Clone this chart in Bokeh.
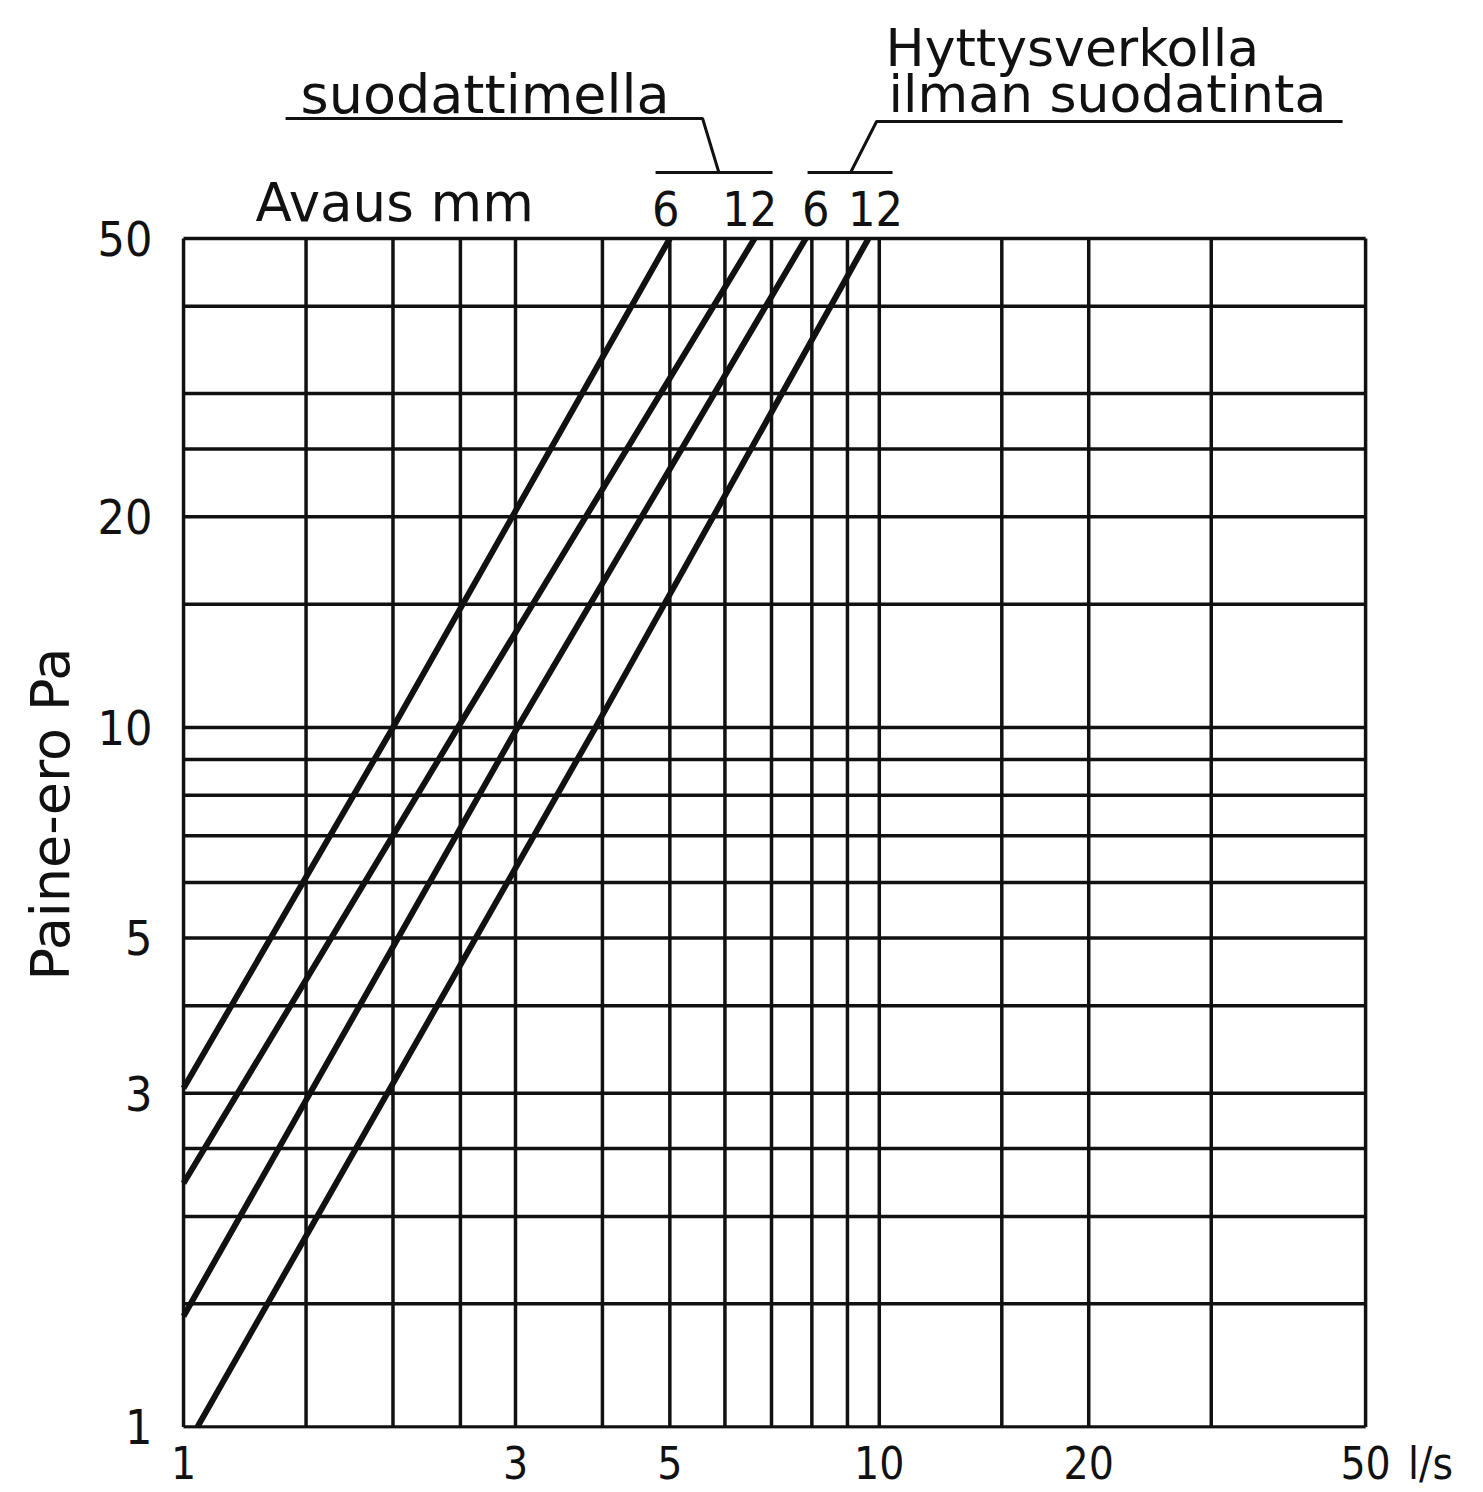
import math
from bokeh.plotting import figure
from bokeh.models import FixedTicker, Range1d, Title
from bokeh.core.properties import value
from bokeh.embed import file_html
from bokeh.resources import INLINE

# ---------------- data ----------------
# flow l/s  vs  pressure difference Pa, straight lines on log-log paper
flow_s6 = [1.0, 2.0, 5.0]
dp_s6 = [3.05, 10.0, 50.0]
flow_s12 = [1.0, 2.48, 6.62]
dp_s12 = [2.23, 10.0, 50.0]
flow_h6 = [1.0, 3.02, 7.84]
dp_h6 = [1.44, 10.0, 50.0]
flow_h12 = [1.047, 3.91, 9.65]
dp_h12 = [1.0, 10.0, 50.0]
openings = ["6", "12", "6", "12"]

x_ticks = [1, 3, 5, 10, 20, 50]
x_tick_labels = ["1", "3", "5", "10", "20", "50"]
x_unit = "l/s"
y_ticks = [1, 3, 5, 10, 20, 50]
y_tick_labels = ["1", "3", "5", "10", "20", "50"]
x_grid = [1, 1.5, 2, 2.5, 3, 4, 5, 6, 7, 8, 9, 10, 15, 20, 30, 50]
y_grid = [1, 1.5, 2, 2.5, 3, 4, 5, 6, 7, 8, 9, 10, 15, 20, 25, 30, 40, 50]
y_title = "Paine-ero Pa"
opening_title = "Avaus mm"
group1 = "suodattimella"
group2 = ["Hyttysverkolla", "ilman suodatinta"]

# ---------------- layout ----------------
XMIN, XMAX = 1, 50
YMIN, YMAX = 1, 50
PXDX = 695.7   # pixels per decade, x
PXDY = 699.8   # pixels per decade, y
LEFT_PX = 183  # page position of x = 1
TOP_PX = 238   # page position of y = 50
BASE_FIX = 18  # baseline correction for text glyphs

def fx(px):
    return XMIN * 10 ** ((px - LEFT_PX) / PXDX)

def fy(py):
    return YMAX * 10 ** ((TOP_PX - py) / PXDY)

x_start, x_end = 0.99, 68.0
y_start = 0.995
y_end = fy(0)
frame_w = round(PXDX * math.log10(x_end / x_start))
frame_h = round(PXDY * math.log10(y_end / y_start))
left_border = round(LEFT_PX - PXDX * math.log10(XMIN / x_start))

INK = "#111111"
WORD_FONT = "DejaVu Sans"
NUM_FONT = "DejaVu Sans Condensed"

p = figure(x_axis_type="log", y_axis_type="log",
           x_range=Range1d(x_start, x_end), y_range=Range1d(y_start, y_end),
           frame_width=frame_w, frame_height=frame_h,
           min_border_left=left_border, min_border_right=0,
           min_border_top=0, min_border_bottom=0,
           toolbar_location=None, output_backend="svg",
           background_fill_color="white", border_fill_color="white",
           outline_line_color=None)
p.xgrid.visible = False
p.ygrid.visible = False

# grid of the log paper
p.segment(x0=x_grid, y0=[YMIN] * len(x_grid), x1=x_grid, y1=[YMAX] * len(x_grid),
          line_color=INK, line_width=3.5)
p.segment(x0=[XMIN] * len(y_grid), y0=y_grid, x1=[XMAX] * len(y_grid), y1=y_grid,
          line_color=INK, line_width=3.5)

# curves
for fl, dp in [(flow_s6, dp_s6), (flow_s12, dp_s12), (flow_h6, dp_h6), (flow_h12, dp_h12)]:
    p.line(fl, dp, line_color=INK, line_width=6)

# axes
xax = p.xaxis[0]
xax.ticker = FixedTicker(ticks=x_ticks + [62])
ov = {t: l for t, l in zip(x_ticks, x_tick_labels)}
ov[62] = x_unit
xax.major_label_overrides = ov
xax.major_label_text_font = NUM_FONT
xax.major_label_text_font_size = "44px"
xax.major_label_text_color = INK
xax.major_label_standoff = 9
xax.axis_line_color = None
xax.major_tick_line_color = None
xax.minor_tick_line_color = None
xax.major_tick_out = 0
xax.major_tick_in = 0

yax = p.yaxis[0]
yax.ticker = FixedTicker(ticks=y_ticks)
yax.major_label_overrides = {t: l for t, l in zip(y_ticks, y_tick_labels)}
yax.major_label_text_font = NUM_FONT
yax.major_label_text_font_size = "48px"
yax.major_label_text_color = INK
yax.major_label_standoff = 28
yax.axis_line_color = None
yax.major_tick_line_color = None
yax.minor_tick_line_color = None
yax.major_tick_out = 0
yax.major_tick_in = 0

ytitle = Title(text=y_title, align="left", offset=448,
               text_font=WORD_FONT, text_font_size="54px",
               text_font_style="normal", text_color=INK)
if "standoff" in Title.properties():
    ytitle.standoff = 26
p.add_layout(ytitle, "left")

# ---------------- top annotations ----------------
tops = [flow_s6[-1], flow_s12[-1], flow_h6[-1], flow_h12[-1]]
p.text(x=tops, y=[fy(226 - BASE_FIX)] * 4, text=openings, text_align="center",
       x_offset=[-4, -5, 10, 7],
       text_baseline="alphabetic", text_font=value(NUM_FONT),
       text_font_size="48px", text_color=INK)
p.text(x=[fx(255)], y=[fy(220 - BASE_FIX)], text=[opening_title], text_align="left",
       text_baseline="alphabetic", text_font=value(WORD_FONT),
       text_font_size="53px", text_color=INK)
p.text(x=[fx(300)], y=[fy(112 - BASE_FIX)], text=[group1], text_align="left",
       text_baseline="alphabetic", text_font=value(WORD_FONT),
       text_font_size="54px", text_color=INK)
p.text(x=[fx(885), fx(888)], y=[fy(66 - BASE_FIX), fy(112 - BASE_FIX)], text=group2,
       text_align="left", text_baseline="alphabetic", text_font=value(WORD_FONT),
       text_font_size="52px", text_color=INK)

brackets = [
    [(285, 118), (702, 118), (718, 171)],
    [(655, 172), (772, 172)],
    [(1342, 121), (876, 121), (850, 172)],
    [(807, 172), (892, 172)],
]
p.multi_line(xs=[[fx(a) for a, b in br] for br in brackets],
             ys=[[fy(b) for a, b in br] for br in brackets],
             line_color=INK, line_width=3)

open("out.html", "w").write(file_html(p, INLINE))
